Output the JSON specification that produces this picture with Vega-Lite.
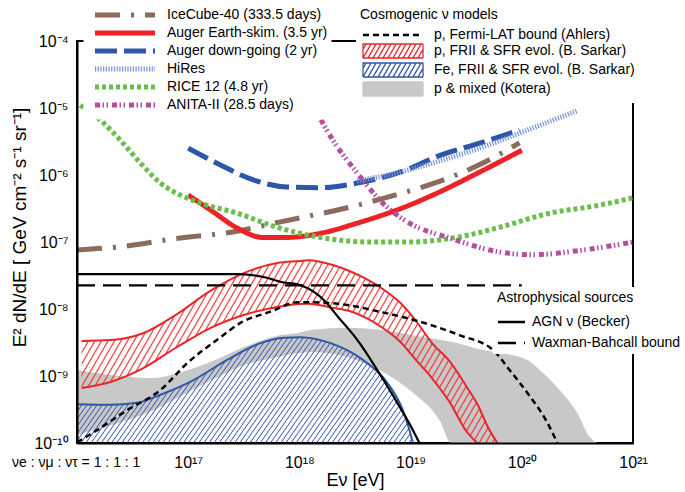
{
"$schema":"https://vega.github.io/schema/vega-lite/v6.json",
"width":556,"height":402,
"autosize":{"type":"none"},
"padding":{"left":77,"top":41,"right":52,"bottom":49},
"config":{"font":"Liberation Sans","view":{"stroke":"black","strokeWidth":2},
"axis":{"domainColor":"black","tickColor":"black","labelColor":"black","titleColor":"black","labelFont":"Liberation Sans","titleFont":"Liberation Sans","titleFontWeight":"normal"},
"legend":{"labelFont":"Liberation Sans","titleFont":"Liberation Sans","titleFontWeight":"normal","labelColor":"black","titleColor":"black","labelLimit":400}},
"title":{"text":"νe : νμ : ντ = 1 : 1 : 1","orient":"bottom","anchor":"start","frame":"group","offset":0,"dx":-65,"dy":-33,"baseline":"top","fontSize":14,"fontWeight":"normal","color":"black"},
"datasets":{
"gray":[{"E":1e16,"F":1.23e-9,"F2":1.32e-10},{"E":2.82e16,"F":9.77e-10,"F2":2.19e-10},{"E":4.9e16,"F":9.33e-10,"F2":3.09e-10},{"E":7.94e16,"F":1.1e-9,"F2":4.68e-10},{"E":1.58e17,"F":1.62e-9,"F2":8.51e-10},{"E":3.16e17,"F":2.69e-9,"F2":1.45e-9},{"E":6.31e17,"F":3.98e-9,"F2":1.91e-9},{"E":9.55e17,"F":4.37e-9,"F2":2.19e-9},{"E":1.32e18,"F":4.9e-9,"F2":2.29e-9},{"E":2.69e18,"F":5.25e-9,"F2":1.91e-9},{"E":5.25e18,"F":4.9e-9,"F2":1.23e-9},{"E":1.05e19,"F":4.07e-9,"F2":5.62e-10},{"E":1.82e19,"F":3.47e-9,"F2":2.19e-10},{"E":2.34e19,"F":3.24e-9,"F2":1e-10},{"E":4.17e19,"F":2.5e-9,"F2":1e-10},{"E":5.5e19,"F":2.3e-9,"F2":1e-10},{"E":1.12e20,"F":1.74e-9,"F2":1e-10},{"E":1.55e20,"F":1.11e-9,"F2":1e-10},{"E":2.19e20,"F":6.17e-10,"F2":1e-10},{"E":3.16e20,"F":2.8e-10,"F2":1e-10},{"E":4.07e20,"F":1.23e-10,"F2":1e-10},{"E":4.79e20,"F":1e-10,"F2":1e-10}],
"red":[{"E":1.1e16,"F":3.33e-9,"F2":6.62e-10},{"E":2e16,"F":3.44e-9,"F2":8.13e-10},{"E":3.98e16,"F":4.39e-9,"F2":1.32e-9},{"E":7.94e16,"F":8.41e-9,"F2":2.71e-9},{"E":1.58e17,"F":1.86e-8,"F2":5.2e-9},{"E":3.16e17,"F":3.44e-8,"F2":8.13e-9},{"E":6.31e17,"F":4.86e-8,"F2":1.07e-8},{"E":1e18,"F":5.2e-8,"F2":1.19e-8},{"E":1.2e18,"F":5.35e-8,"F2":1.2e-8},{"E":2e18,"F":4.54e-8,"F2":1.04e-8},{"E":2.82e18,"F":3.69e-8,"F2":9.33e-9},{"E":3.98e18,"F":2.81e-8,"F2":7.35e-9},{"E":5.62e18,"F":1.99e-8,"F2":5.2e-9},{"E":7.94e18,"F":1.27e-8,"F2":3.33e-9},{"E":1.12e19,"F":6.62e-9,"F2":1.73e-9},{"E":1.58e19,"F":3.01e-9,"F2":9.02e-10},{"E":2.24e19,"F":1.67e-9,"F2":4.09e-10},{"E":3.16e19,"F":7.1e-10,"F2":1.51e-10},{"E":3.98e19,"F":3.82e-10,"F2":1e-10},{"E":5.01e19,"F":1.67e-10,"F2":1e-10},{"E":6.03e19,"F":1e-10,"F2":1e-10}],
"blue":[{"E":1e16,"F":3.8e-10},{"E":2e16,"F":3.72e-10},{"E":3.47e16,"F":3.98e-10},{"E":5.62e16,"F":5.25e-10},{"E":1.12e17,"F":8.71e-10},{"E":2.24e17,"F":1.74e-9},{"E":4.47e17,"F":3.09e-9},{"E":7.24e17,"F":3.72e-9},{"E":1.02e18,"F":3.8e-9},{"E":1.91e18,"F":3.09e-9},{"E":3.72e18,"F":1.74e-9},{"E":6.17e18,"F":7.94e-10},{"E":8.51e18,"F":3.09e-10},{"E":9.77e18,"F":1.55e-10},{"E":1.05e19,"F":1e-10}],
"fermi":[{"model":"p, Fermi-LAT bound (Ahlers)","E":1e16,"F":1.02e-10},{"model":"p, Fermi-LAT bound (Ahlers)","E":1.51e16,"F":1.55e-10},{"model":"p, Fermi-LAT bound (Ahlers)","E":2.82e16,"F":3.09e-10},{"model":"p, Fermi-LAT bound (Ahlers)","E":5.62e16,"F":6.17e-10},{"model":"p, Fermi-LAT bound (Ahlers)","E":9.77e16,"F":1.55e-9},{"model":"p, Fermi-LAT bound (Ahlers)","E":1.82e17,"F":3.47e-9},{"model":"p, Fermi-LAT bound (Ahlers)","E":3.09e17,"F":6.46e-9},{"model":"p, Fermi-LAT bound (Ahlers)","E":5.5e17,"F":9.12e-9},{"model":"p, Fermi-LAT bound (Ahlers)","E":9.55e17,"F":1.26e-8},{"model":"p, Fermi-LAT bound (Ahlers)","E":1.32e18,"F":1.26e-8},{"model":"p, Fermi-LAT bound (Ahlers)","E":2.69e18,"F":1.15e-8},{"model":"p, Fermi-LAT bound (Ahlers)","E":5.25e18,"F":9.12e-9},{"model":"p, Fermi-LAT bound (Ahlers)","E":1.05e19,"F":6.92e-9},{"model":"p, Fermi-LAT bound (Ahlers)","E":2.75e19,"F":4.07e-9},{"model":"p, Fermi-LAT bound (Ahlers)","E":5.5e19,"F":2.45e-9},{"model":"p, Fermi-LAT bound (Ahlers)","E":7.76e19,"F":1.23e-9},{"model":"p, Fermi-LAT bound (Ahlers)","E":1.12e20,"F":5.62e-10},{"model":"p, Fermi-LAT bound (Ahlers)","E":1.7e20,"F":2e-10},{"model":"p, Fermi-LAT bound (Ahlers)","E":2.09e20,"F":1e-10}],
"astro":[{"src":"AGN ν (Becker)","E":1e16,"F":3.31e-8},{"src":"AGN ν (Becker)","E":2.75e17,"F":3.31e-8},{"src":"AGN ν (Becker)","E":4.68e17,"F":3.02e-8},{"src":"AGN ν (Becker)","E":7.08e17,"F":2.51e-8},{"src":"AGN ν (Becker)","E":1e18,"F":2.29e-8},{"src":"AGN ν (Becker)","E":1.55e18,"F":1.51e-8},{"src":"AGN ν (Becker)","E":2.34e18,"F":6.92e-9},{"src":"AGN ν (Becker)","E":3.31e18,"F":3.47e-9},{"src":"AGN ν (Becker)","E":5.01e18,"F":1.23e-9},{"src":"AGN ν (Becker)","E":7.59e18,"F":3.98e-10},{"src":"AGN ν (Becker)","E":1.05e19,"F":1.55e-10},{"src":"AGN ν (Becker)","E":1.2e19,"F":1e-10},{"src":"Waxman-Bahcall bound","E":1e16,"F":2.25e-8},{"src":"Waxman-Bahcall bound","E":1e20,"F":2.25e-8}],
"exps":[
{"exp":"IceCube-40 (333.5 days)","E":1e16,"F":7.59e-8},{"exp":"IceCube-40 (333.5 days)","E":2.45e16,"F":8.51e-8},{"exp":"IceCube-40 (333.5 days)","E":8.51e16,"F":1.15e-7},{"exp":"IceCube-40 (333.5 days)","E":2.51e17,"F":1.41e-7},{"exp":"IceCube-40 (333.5 days)","E":6.76e17,"F":2e-7},{"exp":"IceCube-40 (333.5 days)","E":2.82e18,"F":3.31e-7},{"exp":"IceCube-40 (333.5 days)","E":7.94e18,"F":5.25e-7},{"exp":"IceCube-40 (333.5 days)","E":1.58e19,"F":7.41e-7},{"exp":"IceCube-40 (333.5 days)","E":4.47e19,"F":1.51e-6},{"exp":"IceCube-40 (333.5 days)","E":9.55e19,"F":3.02e-6},
{"exp":"Auger Earth-skim. (3.5 yr)","E":1e17,"F":5.01e-7},{"exp":"Auger Earth-skim. (3.5 yr)","E":1.58e17,"F":3.02e-7},{"exp":"Auger Earth-skim. (3.5 yr)","E":2.75e17,"F":1.62e-7},{"exp":"Auger Earth-skim. (3.5 yr)","E":4.68e17,"F":1.17e-7},{"exp":"Auger Earth-skim. (3.5 yr)","E":7.76e17,"F":1.17e-7},{"exp":"Auger Earth-skim. (3.5 yr)","E":1.55e18,"F":1.35e-7},{"exp":"Auger Earth-skim. (3.5 yr)","E":3.31e18,"F":1.91e-7},{"exp":"Auger Earth-skim. (3.5 yr)","E":9.77e18,"F":3.55e-7},{"exp":"Auger Earth-skim. (3.5 yr)","E":1.58e19,"F":5.01e-7},{"exp":"Auger Earth-skim. (3.5 yr)","E":4.47e19,"F":1.17e-6},{"exp":"Auger Earth-skim. (3.5 yr)","E":1e20,"F":2.34e-6},
{"exp":"Auger down-going (2 yr)","E":1e17,"F":2.51e-6},{"exp":"Auger down-going (2 yr)","E":1.95e17,"F":1.41e-6},{"exp":"Auger down-going (2 yr)","E":3.8e17,"F":8.51e-7},{"exp":"Auger down-going (2 yr)","E":7.76e17,"F":6.61e-7},{"exp":"Auger down-going (2 yr)","E":1.55e18,"F":6.46e-7},{"exp":"Auger down-going (2 yr)","E":3.31e18,"F":7.59e-7},{"exp":"Auger down-going (2 yr)","E":1e19,"F":1.26e-6},{"exp":"Auger down-going (2 yr)","E":1.58e19,"F":1.78e-6},{"exp":"Auger down-going (2 yr)","E":4.47e19,"F":3.09e-6},{"exp":"Auger down-going (2 yr)","E":9.55e19,"F":4.68e-6},
{"exp":"HiRes","E":3.31e18,"F":8.13e-7},{"exp":"HiRes","E":7.94e18,"F":1.1e-6},{"exp":"HiRes","E":1.58e19,"F":1.51e-6},{"exp":"HiRes","E":4.47e19,"F":2.63e-6},{"exp":"HiRes","E":1.12e20,"F":4.68e-6},{"exp":"HiRes","E":3.16e20,"F":9.12e-6},
{"exp":"RICE 12 (4.8 yr)","E":1.07e16,"F":1.1e-5},{"exp":"RICE 12 (4.8 yr)","E":1.62e16,"F":6.61e-6},{"exp":"RICE 12 (4.8 yr)","E":2.45e16,"F":3.31e-6},{"exp":"RICE 12 (4.8 yr)","E":3.72e16,"F":1.51e-6},{"exp":"RICE 12 (4.8 yr)","E":5.62e16,"F":7.59e-7},{"exp":"RICE 12 (4.8 yr)","E":8.51e16,"F":5.01e-7},{"exp":"RICE 12 (4.8 yr)","E":1.29e17,"F":3.8e-7},{"exp":"RICE 12 (4.8 yr)","E":2.75e17,"F":2.69e-7},{"exp":"RICE 12 (4.8 yr)","E":6.31e17,"F":1.66e-7},{"exp":"RICE 12 (4.8 yr)","E":1.55e18,"F":1.17e-7},{"exp":"RICE 12 (4.8 yr)","E":4.27e18,"F":1e-7},{"exp":"RICE 12 (4.8 yr)","E":9.77e18,"F":1e-7},{"exp":"RICE 12 (4.8 yr)","E":3.24e19,"F":1.26e-7},{"exp":"RICE 12 (4.8 yr)","E":6.31e19,"F":1.66e-7},{"exp":"RICE 12 (4.8 yr)","E":1.78e20,"F":2.69e-7},{"exp":"RICE 12 (4.8 yr)","E":5.01e20,"F":3.55e-7},{"exp":"RICE 12 (4.8 yr)","E":1e21,"F":4.57e-7},
{"exp":"ANITA-II (28.5 days)","E":1.32e18,"F":1.12e-5},{"exp":"ANITA-II (28.5 days)","E":2e18,"F":3.31e-6},{"exp":"ANITA-II (28.5 days)","E":3.31e18,"F":1.07e-6},{"exp":"ANITA-II (28.5 days)","E":5.62e18,"F":3.8e-7},{"exp":"ANITA-II (28.5 days)","E":9.77e18,"F":1.91e-7},{"exp":"ANITA-II (28.5 days)","E":2.24e19,"F":1.15e-7},{"exp":"ANITA-II (28.5 days)","E":6.31e19,"F":7.08e-8},{"exp":"ANITA-II (28.5 days)","E":1.26e20,"F":6.46e-8},{"exp":"ANITA-II (28.5 days)","E":3.55e20,"F":7.59e-8},{"exp":"ANITA-II (28.5 days)","E":1e21,"F":1e-7}]
},
"encoding":{
 "x":{"field":"E","type":"quantitative","scale":{"type":"log","domain":[1e16,1e21],"nice":false},
  "axis":{"values":[1e16,1e17,1e18,1e19,1e20,1e21],
  "labelExpr":"datum.value==1e17?'10¹⁷':datum.value==1e18?'10¹⁸':datum.value==1e19?'10¹⁹':datum.value==1e20?'10²⁰':datum.value==1e21?'10²¹':''",
  "ticks":false,"grid":false,
  "domainWidth":2,"labelFontSize":16,"labelPadding":11,"labelOverlap":false,"labelFlush":false,"labelBound":false,"title":"Eν [eV]","titleFontSize":18,"titleY":37,"titleBaseline":"middle","zindex":1}},
 "y":{"field":"F","type":"quantitative","scale":{"type":"log","domain":[1e-10,1e-4],"nice":false},
  "axis":{"orient":"left","values":[1e-10,1e-9,1e-8,1e-7,1e-6,1e-5,1e-4],
  "labelExpr":"datum.value==1e-10?'10⁻¹⁰':datum.value==1e-9?'10⁻⁹':datum.value==1e-8?'10⁻⁸':datum.value==1e-7?'10⁻⁷':datum.value==1e-6?'10⁻⁶':datum.value==1e-5?'10⁻⁵':datum.value==1e-4?'10⁻⁴':''",
  "ticks":false,"grid":false,
  "domainWidth":2,"labelFontSize":16,"labelPadding":9,"labelOverlap":false,"labelFlush":false,"labelBound":false,"title":"E² dN/dE  [ GeV cm⁻² s⁻¹ sr⁻¹]","titleFontSize":19,"titleX":-58,"titleY":186,"titleAngle":-90,"titleAlign":"center","titleBaseline":"middle","zindex":1}}},
"layer":[
  {"data":{"name":"gray"},"mark":{"type":"area","fill":"#c8c8c8","clip":true,"interpolate":"monotone"},"encoding":{"y2":{"field":"F2"}}},
  {"data":{"name":"blue"},
   "mark":{"type":"area","clip":true,"interpolate":"monotone","fill":{"gradient":"linear","x1":0,"y1":0,"x2":1.164,"y2":0.257,"stops":[
{"offset":0,"color":"#35a0"},{"offset":0.0025,"color":"#35a"},{"offset":0.005,"color":"#35a0"},{"offset":0.0125,"color":"#35a0"},{"offset":0.015,"color":"#35a"},{"offset":0.0175,"color":"#35a0"},{"offset":0.025,"color":"#35a0"},{"offset":0.0275,"color":"#35a"},{"offset":0.03,"color":"#35a0"},{"offset":0.0375,"color":"#35a0"},{"offset":0.04,"color":"#35a"},{"offset":0.0425,"color":"#35a0"},{"offset":0.05,"color":"#35a0"},{"offset":0.0525,"color":"#35a"},{"offset":0.055,"color":"#35a0"},{"offset":0.0625,"color":"#35a0"},{"offset":0.065,"color":"#35a"},{"offset":0.0675,"color":"#35a0"},{"offset":0.075,"color":"#35a0"},{"offset":0.0775,"color":"#35a"},{"offset":0.08,"color":"#35a0"},{"offset":0.0875,"color":"#35a0"},{"offset":0.09,"color":"#35a"},{"offset":0.0925,"color":"#35a0"},
{"offset":0.1,"color":"#35a0"},{"offset":0.1025,"color":"#35a"},{"offset":0.105,"color":"#35a0"},{"offset":0.1125,"color":"#35a0"},{"offset":0.115,"color":"#35a"},{"offset":0.1175,"color":"#35a0"},{"offset":0.125,"color":"#35a0"},{"offset":0.1275,"color":"#35a"},{"offset":0.13,"color":"#35a0"},{"offset":0.1375,"color":"#35a0"},{"offset":0.14,"color":"#35a"},{"offset":0.1425,"color":"#35a0"},{"offset":0.15,"color":"#35a0"},{"offset":0.1525,"color":"#35a"},{"offset":0.155,"color":"#35a0"},{"offset":0.1625,"color":"#35a0"},{"offset":0.165,"color":"#35a"},{"offset":0.1675,"color":"#35a0"},{"offset":0.175,"color":"#35a0"},{"offset":0.1775,"color":"#35a"},{"offset":0.18,"color":"#35a0"},{"offset":0.1875,"color":"#35a0"},{"offset":0.19,"color":"#35a"},{"offset":0.1925,"color":"#35a0"},
{"offset":0.2,"color":"#35a0"},{"offset":0.2025,"color":"#35a"},{"offset":0.205,"color":"#35a0"},{"offset":0.2125,"color":"#35a0"},{"offset":0.215,"color":"#35a"},{"offset":0.2175,"color":"#35a0"},{"offset":0.225,"color":"#35a0"},{"offset":0.2275,"color":"#35a"},{"offset":0.23,"color":"#35a0"},{"offset":0.2375,"color":"#35a0"},{"offset":0.24,"color":"#35a"},{"offset":0.2425,"color":"#35a0"},{"offset":0.25,"color":"#35a0"},{"offset":0.2525,"color":"#35a"},{"offset":0.255,"color":"#35a0"},{"offset":0.2625,"color":"#35a0"},{"offset":0.265,"color":"#35a"},{"offset":0.2675,"color":"#35a0"},{"offset":0.275,"color":"#35a0"},{"offset":0.2775,"color":"#35a"},{"offset":0.28,"color":"#35a0"},{"offset":0.2875,"color":"#35a0"},{"offset":0.29,"color":"#35a"},{"offset":0.2925,"color":"#35a0"},
{"offset":0.3,"color":"#35a0"},{"offset":0.3025,"color":"#35a"},{"offset":0.305,"color":"#35a0"},{"offset":0.3125,"color":"#35a0"},{"offset":0.315,"color":"#35a"},{"offset":0.3175,"color":"#35a0"},{"offset":0.325,"color":"#35a0"},{"offset":0.3275,"color":"#35a"},{"offset":0.33,"color":"#35a0"},{"offset":0.3375,"color":"#35a0"},{"offset":0.34,"color":"#35a"},{"offset":0.3425,"color":"#35a0"},{"offset":0.35,"color":"#35a0"},{"offset":0.3525,"color":"#35a"},{"offset":0.355,"color":"#35a0"},{"offset":0.3625,"color":"#35a0"},{"offset":0.365,"color":"#35a"},{"offset":0.3675,"color":"#35a0"},{"offset":0.375,"color":"#35a0"},{"offset":0.3775,"color":"#35a"},{"offset":0.38,"color":"#35a0"},{"offset":0.3875,"color":"#35a0"},{"offset":0.39,"color":"#35a"},{"offset":0.3925,"color":"#35a0"},
{"offset":0.4,"color":"#35a0"},{"offset":0.4025,"color":"#35a"},{"offset":0.405,"color":"#35a0"},{"offset":0.4125,"color":"#35a0"},{"offset":0.415,"color":"#35a"},{"offset":0.4175,"color":"#35a0"},{"offset":0.425,"color":"#35a0"},{"offset":0.4275,"color":"#35a"},{"offset":0.43,"color":"#35a0"},{"offset":0.4375,"color":"#35a0"},{"offset":0.44,"color":"#35a"},{"offset":0.4425,"color":"#35a0"},{"offset":0.45,"color":"#35a0"},{"offset":0.4525,"color":"#35a"},{"offset":0.455,"color":"#35a0"},{"offset":0.4625,"color":"#35a0"},{"offset":0.465,"color":"#35a"},{"offset":0.4675,"color":"#35a0"},{"offset":0.475,"color":"#35a0"},{"offset":0.4775,"color":"#35a"},{"offset":0.48,"color":"#35a0"},{"offset":0.4875,"color":"#35a0"},{"offset":0.49,"color":"#35a"},{"offset":0.4925,"color":"#35a0"},
{"offset":0.5,"color":"#35a0"},{"offset":0.5025,"color":"#35a"},{"offset":0.505,"color":"#35a0"},{"offset":0.5125,"color":"#35a0"},{"offset":0.515,"color":"#35a"},{"offset":0.5175,"color":"#35a0"},{"offset":0.525,"color":"#35a0"},{"offset":0.5275,"color":"#35a"},{"offset":0.53,"color":"#35a0"},{"offset":0.5375,"color":"#35a0"},{"offset":0.54,"color":"#35a"},{"offset":0.5425,"color":"#35a0"},{"offset":0.55,"color":"#35a0"},{"offset":0.5525,"color":"#35a"},{"offset":0.555,"color":"#35a0"},{"offset":0.5625,"color":"#35a0"},{"offset":0.565,"color":"#35a"},{"offset":0.5675,"color":"#35a0"},{"offset":0.575,"color":"#35a0"},{"offset":0.5775,"color":"#35a"},{"offset":0.58,"color":"#35a0"},{"offset":0.5875,"color":"#35a0"},{"offset":0.59,"color":"#35a"},{"offset":0.5925,"color":"#35a0"},
{"offset":0.6,"color":"#35a0"},{"offset":0.6025,"color":"#35a"},{"offset":0.605,"color":"#35a0"},{"offset":0.6125,"color":"#35a0"},{"offset":0.615,"color":"#35a"},{"offset":0.6175,"color":"#35a0"},{"offset":0.625,"color":"#35a0"},{"offset":0.6275,"color":"#35a"},{"offset":0.63,"color":"#35a0"},{"offset":0.6375,"color":"#35a0"},{"offset":0.64,"color":"#35a"},{"offset":0.6425,"color":"#35a0"},{"offset":0.65,"color":"#35a0"},{"offset":0.6525,"color":"#35a"},{"offset":0.655,"color":"#35a0"},{"offset":0.6625,"color":"#35a0"},{"offset":0.665,"color":"#35a"},{"offset":0.6675,"color":"#35a0"},{"offset":0.675,"color":"#35a0"},{"offset":0.6775,"color":"#35a"},{"offset":0.68,"color":"#35a0"},{"offset":0.6875,"color":"#35a0"},{"offset":0.69,"color":"#35a"},{"offset":0.6925,"color":"#35a0"},
{"offset":0.7,"color":"#35a0"},{"offset":0.7025,"color":"#35a"},{"offset":0.705,"color":"#35a0"},{"offset":0.7125,"color":"#35a0"},{"offset":0.715,"color":"#35a"},{"offset":0.7175,"color":"#35a0"},{"offset":0.725,"color":"#35a0"},{"offset":0.7275,"color":"#35a"},{"offset":0.73,"color":"#35a0"},{"offset":0.7375,"color":"#35a0"},{"offset":0.74,"color":"#35a"},{"offset":0.7425,"color":"#35a0"},{"offset":0.75,"color":"#35a0"},{"offset":0.7525,"color":"#35a"},{"offset":0.755,"color":"#35a0"},{"offset":0.7625,"color":"#35a0"},{"offset":0.765,"color":"#35a"},{"offset":0.7675,"color":"#35a0"},{"offset":0.775,"color":"#35a0"},{"offset":0.7775,"color":"#35a"},{"offset":0.78,"color":"#35a0"},{"offset":0.7875,"color":"#35a0"},{"offset":0.79,"color":"#35a"},{"offset":0.7925,"color":"#35a0"},
{"offset":0.8,"color":"#35a0"},{"offset":0.8025,"color":"#35a"},{"offset":0.805,"color":"#35a0"},{"offset":0.8125,"color":"#35a0"},{"offset":0.815,"color":"#35a"},{"offset":0.8175,"color":"#35a0"},{"offset":0.825,"color":"#35a0"},{"offset":0.8275,"color":"#35a"},{"offset":0.83,"color":"#35a0"},{"offset":0.8375,"color":"#35a0"},{"offset":0.84,"color":"#35a"},{"offset":0.8425,"color":"#35a0"},{"offset":0.85,"color":"#35a0"},{"offset":0.8525,"color":"#35a"},{"offset":0.855,"color":"#35a0"},{"offset":0.8625,"color":"#35a0"},{"offset":0.865,"color":"#35a"},{"offset":0.8675,"color":"#35a0"},{"offset":0.875,"color":"#35a0"},{"offset":0.8775,"color":"#35a"},{"offset":0.88,"color":"#35a0"},{"offset":0.8875,"color":"#35a0"},{"offset":0.89,"color":"#35a"},{"offset":0.8925,"color":"#35a0"},
{"offset":0.9,"color":"#35a0"},{"offset":0.9025,"color":"#35a"},{"offset":0.905,"color":"#35a0"},{"offset":0.9125,"color":"#35a0"},{"offset":0.915,"color":"#35a"},{"offset":0.9175,"color":"#35a0"},{"offset":0.925,"color":"#35a0"},{"offset":0.9275,"color":"#35a"},{"offset":0.93,"color":"#35a0"},{"offset":0.9375,"color":"#35a0"},{"offset":0.94,"color":"#35a"},{"offset":0.9425,"color":"#35a0"},{"offset":0.95,"color":"#35a0"},{"offset":0.9525,"color":"#35a"},{"offset":0.955,"color":"#35a0"},{"offset":0.9625,"color":"#35a0"},{"offset":0.965,"color":"#35a"},{"offset":0.9675,"color":"#35a0"},{"offset":0.975,"color":"#35a0"},{"offset":0.9775,"color":"#35a"},{"offset":0.98,"color":"#35a0"},{"offset":0.9875,"color":"#35a0"},{"offset":0.99,"color":"#35a"},{"offset":0.9925,"color":"#35a0"}]}},
   "encoding":{"y2":{"datum":1e-10}}},
  {"data":{"name":"blue"},"mark":{"type":"line","clip":true,"interpolate":"monotone","stroke":"#2d57a7","strokeWidth":2}},
  {"data":{"name":"red"},
   "mark":{"type":"area","clip":true,"interpolate":"monotone","fill":{"gradient":"linear","x1":0,"y1":0,"x2":1.178,"y2":0.299,"stops":[
{"offset":0,"color":"#e330"},{"offset":0.0025,"color":"#e33"},{"offset":0.005,"color":"#e330"},{"offset":0.0125,"color":"#e330"},{"offset":0.015,"color":"#e33"},{"offset":0.0175,"color":"#e330"},{"offset":0.025,"color":"#e330"},{"offset":0.0275,"color":"#e33"},{"offset":0.03,"color":"#e330"},{"offset":0.0375,"color":"#e330"},{"offset":0.04,"color":"#e33"},{"offset":0.0425,"color":"#e330"},{"offset":0.05,"color":"#e330"},{"offset":0.0525,"color":"#e33"},{"offset":0.055,"color":"#e330"},{"offset":0.0625,"color":"#e330"},{"offset":0.065,"color":"#e33"},{"offset":0.0675,"color":"#e330"},{"offset":0.075,"color":"#e330"},{"offset":0.0775,"color":"#e33"},{"offset":0.08,"color":"#e330"},{"offset":0.0875,"color":"#e330"},{"offset":0.09,"color":"#e33"},{"offset":0.0925,"color":"#e330"},
{"offset":0.1,"color":"#e330"},{"offset":0.1025,"color":"#e33"},{"offset":0.105,"color":"#e330"},{"offset":0.1125,"color":"#e330"},{"offset":0.115,"color":"#e33"},{"offset":0.1175,"color":"#e330"},{"offset":0.125,"color":"#e330"},{"offset":0.1275,"color":"#e33"},{"offset":0.13,"color":"#e330"},{"offset":0.1375,"color":"#e330"},{"offset":0.14,"color":"#e33"},{"offset":0.1425,"color":"#e330"},{"offset":0.15,"color":"#e330"},{"offset":0.1525,"color":"#e33"},{"offset":0.155,"color":"#e330"},{"offset":0.1625,"color":"#e330"},{"offset":0.165,"color":"#e33"},{"offset":0.1675,"color":"#e330"},{"offset":0.175,"color":"#e330"},{"offset":0.1775,"color":"#e33"},{"offset":0.18,"color":"#e330"},{"offset":0.1875,"color":"#e330"},{"offset":0.19,"color":"#e33"},{"offset":0.1925,"color":"#e330"},
{"offset":0.2,"color":"#e330"},{"offset":0.2025,"color":"#e33"},{"offset":0.205,"color":"#e330"},{"offset":0.2125,"color":"#e330"},{"offset":0.215,"color":"#e33"},{"offset":0.2175,"color":"#e330"},{"offset":0.225,"color":"#e330"},{"offset":0.2275,"color":"#e33"},{"offset":0.23,"color":"#e330"},{"offset":0.2375,"color":"#e330"},{"offset":0.24,"color":"#e33"},{"offset":0.2425,"color":"#e330"},{"offset":0.25,"color":"#e330"},{"offset":0.2525,"color":"#e33"},{"offset":0.255,"color":"#e330"},{"offset":0.2625,"color":"#e330"},{"offset":0.265,"color":"#e33"},{"offset":0.2675,"color":"#e330"},{"offset":0.275,"color":"#e330"},{"offset":0.2775,"color":"#e33"},{"offset":0.28,"color":"#e330"},{"offset":0.2875,"color":"#e330"},{"offset":0.29,"color":"#e33"},{"offset":0.2925,"color":"#e330"},
{"offset":0.3,"color":"#e330"},{"offset":0.3025,"color":"#e33"},{"offset":0.305,"color":"#e330"},{"offset":0.3125,"color":"#e330"},{"offset":0.315,"color":"#e33"},{"offset":0.3175,"color":"#e330"},{"offset":0.325,"color":"#e330"},{"offset":0.3275,"color":"#e33"},{"offset":0.33,"color":"#e330"},{"offset":0.3375,"color":"#e330"},{"offset":0.34,"color":"#e33"},{"offset":0.3425,"color":"#e330"},{"offset":0.35,"color":"#e330"},{"offset":0.3525,"color":"#e33"},{"offset":0.355,"color":"#e330"},{"offset":0.3625,"color":"#e330"},{"offset":0.365,"color":"#e33"},{"offset":0.3675,"color":"#e330"},{"offset":0.375,"color":"#e330"},{"offset":0.3775,"color":"#e33"},{"offset":0.38,"color":"#e330"},{"offset":0.3875,"color":"#e330"},{"offset":0.39,"color":"#e33"},{"offset":0.3925,"color":"#e330"},
{"offset":0.4,"color":"#e330"},{"offset":0.4025,"color":"#e33"},{"offset":0.405,"color":"#e330"},{"offset":0.4125,"color":"#e330"},{"offset":0.415,"color":"#e33"},{"offset":0.4175,"color":"#e330"},{"offset":0.425,"color":"#e330"},{"offset":0.4275,"color":"#e33"},{"offset":0.43,"color":"#e330"},{"offset":0.4375,"color":"#e330"},{"offset":0.44,"color":"#e33"},{"offset":0.4425,"color":"#e330"},{"offset":0.45,"color":"#e330"},{"offset":0.4525,"color":"#e33"},{"offset":0.455,"color":"#e330"},{"offset":0.4625,"color":"#e330"},{"offset":0.465,"color":"#e33"},{"offset":0.4675,"color":"#e330"},{"offset":0.475,"color":"#e330"},{"offset":0.4775,"color":"#e33"},{"offset":0.48,"color":"#e330"},{"offset":0.4875,"color":"#e330"},{"offset":0.49,"color":"#e33"},{"offset":0.4925,"color":"#e330"},
{"offset":0.5,"color":"#e330"},{"offset":0.5025,"color":"#e33"},{"offset":0.505,"color":"#e330"},{"offset":0.5125,"color":"#e330"},{"offset":0.515,"color":"#e33"},{"offset":0.5175,"color":"#e330"},{"offset":0.525,"color":"#e330"},{"offset":0.5275,"color":"#e33"},{"offset":0.53,"color":"#e330"},{"offset":0.5375,"color":"#e330"},{"offset":0.54,"color":"#e33"},{"offset":0.5425,"color":"#e330"},{"offset":0.55,"color":"#e330"},{"offset":0.5525,"color":"#e33"},{"offset":0.555,"color":"#e330"},{"offset":0.5625,"color":"#e330"},{"offset":0.565,"color":"#e33"},{"offset":0.5675,"color":"#e330"},{"offset":0.575,"color":"#e330"},{"offset":0.5775,"color":"#e33"},{"offset":0.58,"color":"#e330"},{"offset":0.5875,"color":"#e330"},{"offset":0.59,"color":"#e33"},{"offset":0.5925,"color":"#e330"},
{"offset":0.6,"color":"#e330"},{"offset":0.6025,"color":"#e33"},{"offset":0.605,"color":"#e330"},{"offset":0.6125,"color":"#e330"},{"offset":0.615,"color":"#e33"},{"offset":0.6175,"color":"#e330"},{"offset":0.625,"color":"#e330"},{"offset":0.6275,"color":"#e33"},{"offset":0.63,"color":"#e330"},{"offset":0.6375,"color":"#e330"},{"offset":0.64,"color":"#e33"},{"offset":0.6425,"color":"#e330"},{"offset":0.65,"color":"#e330"},{"offset":0.6525,"color":"#e33"},{"offset":0.655,"color":"#e330"},{"offset":0.6625,"color":"#e330"},{"offset":0.665,"color":"#e33"},{"offset":0.6675,"color":"#e330"},{"offset":0.675,"color":"#e330"},{"offset":0.6775,"color":"#e33"},{"offset":0.68,"color":"#e330"},{"offset":0.6875,"color":"#e330"},{"offset":0.69,"color":"#e33"},{"offset":0.6925,"color":"#e330"},
{"offset":0.7,"color":"#e330"},{"offset":0.7025,"color":"#e33"},{"offset":0.705,"color":"#e330"},{"offset":0.7125,"color":"#e330"},{"offset":0.715,"color":"#e33"},{"offset":0.7175,"color":"#e330"},{"offset":0.725,"color":"#e330"},{"offset":0.7275,"color":"#e33"},{"offset":0.73,"color":"#e330"},{"offset":0.7375,"color":"#e330"},{"offset":0.74,"color":"#e33"},{"offset":0.7425,"color":"#e330"},{"offset":0.75,"color":"#e330"},{"offset":0.7525,"color":"#e33"},{"offset":0.755,"color":"#e330"},{"offset":0.7625,"color":"#e330"},{"offset":0.765,"color":"#e33"},{"offset":0.7675,"color":"#e330"},{"offset":0.775,"color":"#e330"},{"offset":0.7775,"color":"#e33"},{"offset":0.78,"color":"#e330"},{"offset":0.7875,"color":"#e330"},{"offset":0.79,"color":"#e33"},{"offset":0.7925,"color":"#e330"},
{"offset":0.8,"color":"#e330"},{"offset":0.8025,"color":"#e33"},{"offset":0.805,"color":"#e330"},{"offset":0.8125,"color":"#e330"},{"offset":0.815,"color":"#e33"},{"offset":0.8175,"color":"#e330"},{"offset":0.825,"color":"#e330"},{"offset":0.8275,"color":"#e33"},{"offset":0.83,"color":"#e330"},{"offset":0.8375,"color":"#e330"},{"offset":0.84,"color":"#e33"},{"offset":0.8425,"color":"#e330"},{"offset":0.85,"color":"#e330"},{"offset":0.8525,"color":"#e33"},{"offset":0.855,"color":"#e330"},{"offset":0.8625,"color":"#e330"},{"offset":0.865,"color":"#e33"},{"offset":0.8675,"color":"#e330"},{"offset":0.875,"color":"#e330"},{"offset":0.8775,"color":"#e33"},{"offset":0.88,"color":"#e330"},{"offset":0.8875,"color":"#e330"},{"offset":0.89,"color":"#e33"},{"offset":0.8925,"color":"#e330"},
{"offset":0.9,"color":"#e330"},{"offset":0.9025,"color":"#e33"},{"offset":0.905,"color":"#e330"},{"offset":0.9125,"color":"#e330"},{"offset":0.915,"color":"#e33"},{"offset":0.9175,"color":"#e330"},{"offset":0.925,"color":"#e330"},{"offset":0.9275,"color":"#e33"},{"offset":0.93,"color":"#e330"},{"offset":0.9375,"color":"#e330"},{"offset":0.94,"color":"#e33"},{"offset":0.9425,"color":"#e330"},{"offset":0.95,"color":"#e330"},{"offset":0.9525,"color":"#e33"},{"offset":0.955,"color":"#e330"},{"offset":0.9625,"color":"#e330"},{"offset":0.965,"color":"#e33"},{"offset":0.9675,"color":"#e330"},{"offset":0.975,"color":"#e330"},{"offset":0.9775,"color":"#e33"},{"offset":0.98,"color":"#e330"},{"offset":0.9875,"color":"#e330"},{"offset":0.99,"color":"#e33"},{"offset":0.9925,"color":"#e330"}]}},
   "encoding":{"y2":{"field":"F2"}}},
  {"data":{"name":"red"},"mark":{"type":"line","clip":true,"interpolate":"monotone","stroke":"#e8262b","strokeWidth":2}},
  {"data":{"name":"red"},"transform":[{"filter":"datum.E <= 4e19"}],"mark":{"type":"line","clip":true,"interpolate":"monotone","stroke":"#e8262b","strokeWidth":2},
   "encoding":{"y":{"field":"F2","type":"quantitative","scale":{"type":"log","domain":[1e-10,1e-4],"nice":false}}}},
  {"data":{"name":"fermi"},"mark":{"type":"line","clip":true,"interpolate":"monotone","stroke":"black","strokeWidth":2.5,"strokeDash":[6,4]}},
  {"data":{"name":"fermi"},"mark":{"type":"point","opacity":0,"clip":true},
   "encoding":{
    "shape":{"field":"model","type":"nominal","scale":{"domain":["p, Fermi-LAT bound (Ahlers)","p, FRII & SFR evol. (B. Sarkar)","Fe, FRII & SFR evol. (B. Sarkar)","p & mixed (Kotera)"],"range":["M0,0H12","M0,-1.4H12V1.4H0Z M0,-0.33L0.62,-1.4 M0,1.4L1.62,-1.4 M1,1.4L2.62,-1.4 M2,1.4L3.62,-1.4 M3,1.4L4.62,-1.4 M4,1.4L5.62,-1.4 M5,1.4L6.62,-1.4 M6,1.4L7.62,-1.4 M7,1.4L8.62,-1.4 M8,1.4L9.62,-1.4 M9,1.4L10.62,-1.4 M10,1.4L11.62,-1.4 M11,1.4L12,-0.33","M0,-1.4H12V1.4H0Z M0,-0.33L0.62,-1.4 M0,1.4L1.62,-1.4 M1,1.4L2.62,-1.4 M2,1.4L3.62,-1.4 M3,1.4L4.62,-1.4 M4,1.4L5.62,-1.4 M5,1.4L6.62,-1.4 M6,1.4L7.62,-1.4 M7,1.4L8.62,-1.4 M8,1.4L9.62,-1.4 M9,1.4L10.62,-1.4 M10,1.4L11.62,-1.4 M11,1.4L12,-0.33","M0,-1.4H12V1.4H0Z"]},
     "legend":{"orient":"none","legendX":279,"legendY":-37,"title":"Cosmogenic ν models","titleFontSize":14,"titlePadding":6,"direction":"vertical","columns":1,"symbolSize":100,"symbolOpacity":1,"symbolOffset":-4,"labelFontSize":14,"labelOffset":64,"rowPadding":-1,"padding":4,"fillColor":"white","labelLimit":400,"zindex":2}},
    "stroke":{"field":"model","type":"nominal","scale":{"domain":["p, Fermi-LAT bound (Ahlers)","p, FRII & SFR evol. (B. Sarkar)","Fe, FRII & SFR evol. (B. Sarkar)","p & mixed (Kotera)"],"range":["black","#e8262b","#2d57a7","#c8c8c8"]}},
    "fill":{"field":"model","type":"nominal","scale":{"domain":["p, Fermi-LAT bound (Ahlers)","p, FRII & SFR evol. (B. Sarkar)","Fe, FRII & SFR evol. (B. Sarkar)","p & mixed (Kotera)"],"range":["transparent","transparent","transparent","#c8c8c8"]}},
    "strokeDash":{"field":"model","type":"nominal","scale":{"domain":["p, Fermi-LAT bound (Ahlers)","p, FRII & SFR evol. (B. Sarkar)","Fe, FRII & SFR evol. (B. Sarkar)","p & mixed (Kotera)"],"range":[[6,4],[1,0],[1,0],[1,0]]}},
    "strokeWidth":{"field":"model","type":"ordinal","scale":{"type":"ordinal","domain":["p, Fermi-LAT bound (Ahlers)","p, FRII & SFR evol. (B. Sarkar)","Fe, FRII & SFR evol. (B. Sarkar)","p & mixed (Kotera)"],"range":[2.5,1.3,1.3,1.3]}}}},
  {"data":{"name":"astro"},"mark":{"type":"line","clip":true,"interpolate":"monotone","stroke":"black","strokeWidth":2.2},
   "encoding":{"strokeDash":{"field":"src","type":"nominal","scale":{"domain":["AGN ν (Becker)","Waxman-Bahcall bound"],"range":[[1,0],[18,8]]},
    "legend":{"orient":"none","legendX":416,"legendY":246,"title":"Astrophysical sources","titleFontSize":14,"titlePadding":10,"direction":"vertical","columns":1,"symbolType":"M0,0H5.4","symbolSize":100,"symbolStrokeWidth":2.3,"symbolStrokeColor":"black","symbolOffset":-6,"labelFontSize":14,"labelOffset":27,"rowPadding":7,"padding":4,"fillColor":"white","labelLimit":400,"zindex":2}}}},
  {"data":{"name":"exps"},"mark":{"type":"line","clip":true,"interpolate":"monotone","strokeWidth":5},
   "encoding":{
    "color":{"field":"exp","type":"nominal","scale":{"domain":["IceCube-40 (333.5 days)","Auger Earth-skim. (3.5 yr)","Auger down-going (2 yr)","HiRes","RICE 12 (4.8 yr)","ANITA-II (28.5 days)"],"range":["#8b6b5b","#ec2227","#2e56a6","#7193d8","#6abf4b","#b64da0"]},
     "legend":{"orient":"none","legendX":6.5,"legendY":-37.5,"title":null,"direction":"vertical","columns":1,"symbolType":"M0,0H12","symbolSize":100,"symbolStrokeWidth":5,"labelFontSize":14,"labelOffset":64.5,"rowPadding":-5.2,"padding":4,"fillColor":"white","labelLimit":400,"zindex":2}},
    "strokeDash":{"field":"exp","type":"nominal","scale":{"domain":["IceCube-40 (333.5 days)","Auger Earth-skim. (3.5 yr)","Auger down-going (2 yr)","HiRes","RICE 12 (4.8 yr)","ANITA-II (28.5 days)"],"range":[[25,11,3,11],[1,0],[22,7],[1.2,1.5],[4,3],[5,2.5,1.5,2.5,1.5,4]]},
     "legend":{"orient":"none","legendX":6.5,"legendY":-37.5,"title":null,"direction":"vertical","columns":1,"symbolType":"M0,0H12","symbolSize":100,"symbolStrokeWidth":5,"labelFontSize":14,"labelOffset":64.5,"rowPadding":-5.2,"padding":4,"fillColor":"white","labelLimit":400,"zindex":2}}}}
],
"resolve":{"scale":{"strokeDash":"independent","color":"independent","shape":"independent","fill":"independent","stroke":"independent","strokeWidth":"independent"}}
}
